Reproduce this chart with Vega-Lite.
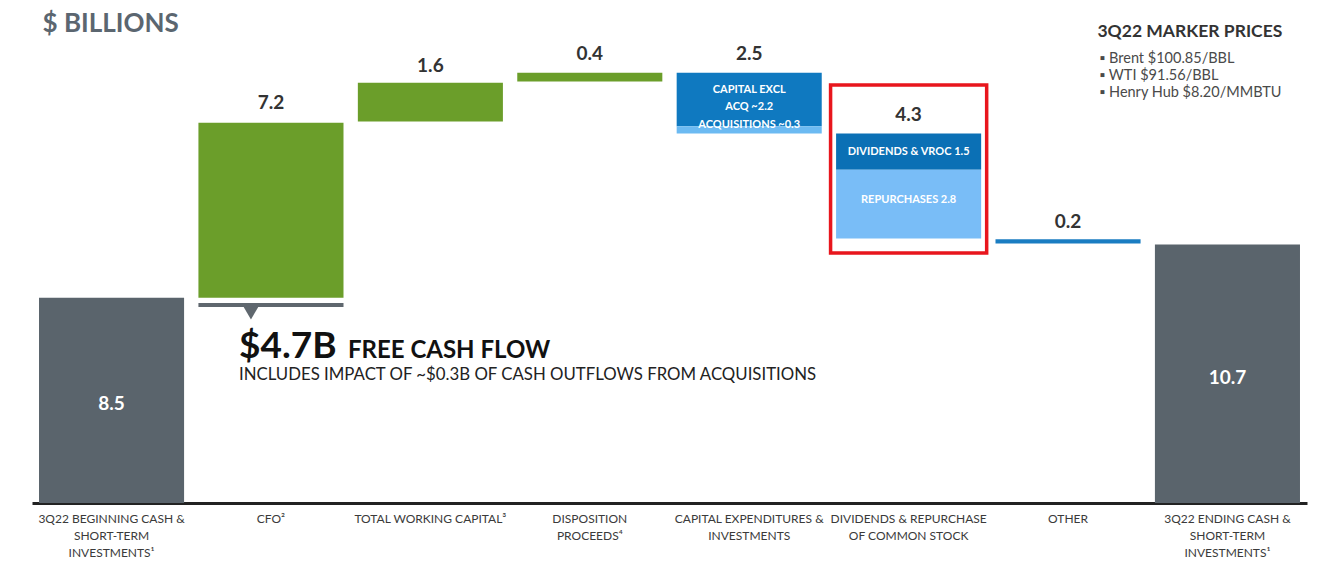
{
  "$schema": "https://vega.github.io/schema/vega-lite/v6.json",
  "autosize": {"type": "none"},
  "width": 1275,
  "height": 503,
  "padding": {"left": 32, "right": 18, "top": 0, "bottom": 78},
  "background": "white",
  "config": {"view": {"stroke": null}, "font": "Lato"},
  "datasets": {
    "bars": [
      {"cat": "3Q22 BEGINNING CASH &|SHORT-TERM|INVESTMENTS¹", "part": "cash", "start": 0, "end": 8.5},
      {"cat": "CFO²", "part": "inflow", "start": 8.5, "end": 15.75},
      {"cat": "TOTAL WORKING CAPITAL³", "part": "inflow", "start": 15.8, "end": 17.4},
      {"cat": "DISPOSITION|PROCEEDS⁴", "part": "inflow", "start": 17.45, "end": 17.82},
      {"cat": "CAPITAL EXPENDITURES &|INVESTMENTS", "part": "capex", "start": 17.82, "end": 15.6},
      {"cat": "CAPITAL EXPENDITURES &|INVESTMENTS", "part": "acq", "start": 15.6, "end": 15.3},
      {"cat": "DIVIDENDS & REPURCHASE|OF COMMON STOCK", "part": "div", "start": 15.3, "end": 13.8},
      {"cat": "DIVIDENDS & REPURCHASE|OF COMMON STOCK", "part": "rep", "start": 13.8, "end": 10.95},
      {"cat": "OTHER", "part": "other", "start": 10.92, "end": 10.75},
      {"cat": "3Q22 ENDING CASH &|SHORT-TERM|INVESTMENTS¹", "part": "cash", "start": 0, "end": 10.7},
      {"cat": "CFO²", "part": "fcf", "start": 8.28, "end": 8.12}
    ]
  },
  "encoding": {
    "x": {
      "field": "cat",
      "type": "nominal",
      "scale": {
        "domain": [
          "3Q22 BEGINNING CASH &|SHORT-TERM|INVESTMENTS¹",
          "CFO²",
          "TOTAL WORKING CAPITAL³",
          "DISPOSITION|PROCEEDS⁴",
          "CAPITAL EXPENDITURES &|INVESTMENTS",
          "DIVIDENDS & REPURCHASE|OF COMMON STOCK",
          "OTHER",
          "3Q22 ENDING CASH &|SHORT-TERM|INVESTMENTS¹"
        ],
        "paddingInner": 0.09,
        "paddingOuter": 0.044
      },
      "axis": {
        "title": null,
        "labelAngle": 0,
        "ticks": false,
        "grid": false,
        "domainColor": "#222222",
        "domainWidth": 3,
        "labelFont": "Lato",
        "labelFontSize": 12,
        "labelColor": "#3a3a3a",
        "labelPadding": 10,
        "labelLineHeight": 17,
        "labelLimit": 0,
        "labelExpr": "split(datum.label, '|')"
      }
    }
  },
  "layer": [
    {
      "data": {"name": "bars"},
      "mark": {"type": "bar"},
      "encoding": {
        "y": {"field": "start", "type": "quantitative", "scale": {"domain": [0, 20.83], "nice": false, "zero": false}, "axis": null},
        "y2": {"field": "end"},
        "color": {
          "field": "part",
          "type": "nominal",
          "legend": null,
          "scale": {
            "domain": ["cash", "inflow", "capex", "acq", "div", "rep", "other", "fcf"],
            "range": ["#5a646c", "#6b9e2a", "#0f79c0", "#6cbaf2", "#0b70b5", "#79bdf7", "#1a7dc2", "#5f676e"]
          }
        }
      }
    },
    {
      "data": {"values": [{"cat": "DIVIDENDS & REPURCHASE|OF COMMON STOCK", "top": 17.31, "bottom": 10.35}]},
      "mark": {"type": "bar", "filled": false, "stroke": "#e8161d", "strokeWidth": 3.5, "width": {"band": 1.076}},
      "encoding": {
        "y": {"field": "top", "type": "quantitative"},
        "y2": {"field": "bottom"}
      }
    },
    {
      "data": {"values": [{"cat": "CFO²", "v": 7.87}]},
      "mark": {"type": "point", "shape": "triangle-down", "filled": true, "color": "#5f676e", "size": 230, "xOffset": -20, "opacity": 1},
      "encoding": {"y": {"field": "v", "type": "quantitative"}}
    },
    {
      "data": {"values": [
        {"cat": "CFO²", "v": 16.55, "t": "7.2"},
        {"cat": "TOTAL WORKING CAPITAL³", "v": 18.1, "t": "1.6"},
        {"cat": "DISPOSITION|PROCEEDS⁴", "v": 18.6, "t": "0.4"},
        {"cat": "CAPITAL EXPENDITURES &|INVESTMENTS", "v": 18.6, "t": "2.5"},
        {"cat": "DIVIDENDS & REPURCHASE|OF COMMON STOCK", "v": 16.05, "t": "4.3"},
        {"cat": "OTHER", "v": 11.65, "t": "0.2"}
      ]},
      "mark": {"type": "text", "font": "Lato", "fontSize": 19, "fontWeight": "bold", "color": "#333333", "baseline": "middle"},
      "encoding": {"y": {"field": "v", "type": "quantitative"}, "text": {"field": "t"}}
    },
    {
      "data": {"values": [
        {"cat": "3Q22 BEGINNING CASH &|SHORT-TERM|INVESTMENTS¹", "v": 4.1, "t": "8.5"},
        {"cat": "3Q22 ENDING CASH &|SHORT-TERM|INVESTMENTS¹", "v": 5.18, "t": "10.7"}
      ]},
      "mark": {"type": "text", "font": "Lato", "fontSize": 19, "fontWeight": "bold", "color": "white", "baseline": "middle"},
      "encoding": {"y": {"field": "v", "type": "quantitative"}, "text": {"field": "t"}}
    },
    {
      "data": {"values": [
        {"cat": "CAPITAL EXPENDITURES &|INVESTMENTS", "v": 17.1, "t": "CAPITAL EXCL"},
        {"cat": "CAPITAL EXPENDITURES &|INVESTMENTS", "v": 16.4, "t": "ACQ ~2.2"},
        {"cat": "CAPITAL EXPENDITURES &|INVESTMENTS", "v": 15.65, "t": "ACQUISITIONS ~0.3"},
        {"cat": "DIVIDENDS & REPURCHASE|OF COMMON STOCK", "v": 14.53, "t": "DIVIDENDS & VROC 1.5"},
        {"cat": "DIVIDENDS & REPURCHASE|OF COMMON STOCK", "v": 12.55, "t": "REPURCHASES 2.8"}
      ]},
      "mark": {"type": "text", "font": "Lato", "fontSize": 11, "fontWeight": "bold", "color": "white", "baseline": "middle"},
      "encoding": {"y": {"field": "v", "type": "quantitative"}, "text": {"field": "t"}}
    },
    {
      "data": {"values": [{"cat": "3Q22 BEGINNING CASH &|SHORT-TERM|INVESTMENTS¹", "v": 19.52, "t": "$ BILLIONS"}]},
      "mark": {"type": "text", "font": "Lato", "fontSize": 26, "fontWeight": "bold", "color": "#5b6670", "align": "left", "baseline": "alphabetic", "dx": -69},
      "encoding": {"y": {"field": "v", "type": "quantitative"}, "text": {"field": "t"}}
    },
    {
      "data": {"values": [{"cat": "3Q22 ENDING CASH &|SHORT-TERM|INVESTMENTS¹", "v": 19.31, "t": "3Q22 MARKER PRICES"}]},
      "mark": {"type": "text", "font": "Lato", "fontSize": 17.5, "fontWeight": "bold", "color": "#333333", "align": "left", "baseline": "alphabetic", "dx": -130},
      "encoding": {"y": {"field": "v", "type": "quantitative"}, "text": {"field": "t"}}
    },
    {
      "data": {"values": [
        {"cat": "3Q22 ENDING CASH &|SHORT-TERM|INVESTMENTS¹", "v": 18.24, "t": "▪    Brent $100.85/BBL"},
        {"cat": "3Q22 ENDING CASH &|SHORT-TERM|INVESTMENTS¹", "v": 17.51, "t": "▪    WTI $91.56/BBL"},
        {"cat": "3Q22 ENDING CASH &|SHORT-TERM|INVESTMENTS¹", "v": 16.8, "t": "▪    Henry Hub $8.20/MMBTU"}
      ]},
      "mark": {"type": "text", "font": "Lato", "fontSize": 14.5, "color": "#4a4a4a", "align": "left", "baseline": "alphabetic", "dx": -128},
      "encoding": {"y": {"field": "v", "type": "quantitative"}, "text": {"field": "t"}}
    },
    {
      "data": {"values": [{"cat": "CFO²", "v": 6.0, "t": "$4.7B"}]},
      "mark": {"type": "text", "font": "Lato", "fontSize": 37, "fontWeight": "bold", "color": "#111111", "align": "left", "baseline": "alphabetic", "dx": -32},
      "encoding": {"y": {"field": "v", "type": "quantitative"}, "text": {"field": "t"}}
    },
    {
      "data": {"values": [{"cat": "CFO²", "v": 6.0, "t": "FREE CASH FLOW"}]},
      "mark": {"type": "text", "font": "Lato", "fontSize": 24, "fontWeight": "bold", "color": "#111111", "align": "left", "baseline": "alphabetic", "dx": 77},
      "encoding": {"y": {"field": "v", "type": "quantitative"}, "text": {"field": "t"}}
    },
    {
      "data": {"values": [{"cat": "CFO²", "v": 5.09, "t": "INCLUDES IMPACT OF ~$0.3B OF CASH OUTFLOWS FROM ACQUISITIONS"}]},
      "mark": {"type": "text", "font": "Lato", "fontSize": 16.8, "color": "#222222", "align": "left", "baseline": "alphabetic", "dx": -32},
      "encoding": {"y": {"field": "v", "type": "quantitative"}, "text": {"field": "t"}}
    }
  ]
}
